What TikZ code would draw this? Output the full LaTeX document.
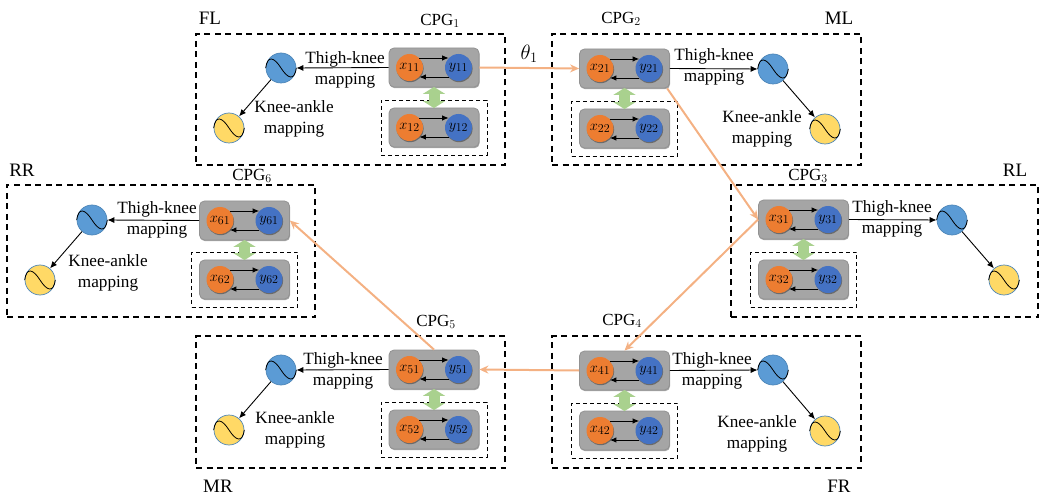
\documentclass[tikz,border=0pt]{standalone}
\usepackage{fontspec}
\setmainfont{Liberation Serif}
\usetikzlibrary{arrows.meta,shadows,calc}
\DeclareMathSizes{15}{15}{12}{9}
\DeclareMathSizes{17}{17}{13}{10}
\DeclareMathSizes{20}{20}{15}{11}
\definecolor{gbox}{HTML}{A5A5A5}
\definecolor{gedge}{HTML}{929292}
\definecolor{oc}{HTML}{ED7D31}
\definecolor{bc}{HTML}{4472C4}
\definecolor{wb}{HTML}{5B9BD5}
\definecolor{wy}{HTML}{FFD966}
\definecolor{wedge}{HTML}{4E86B8}
\definecolor{link}{HTML}{F4B183}
\definecolor{gr}{HTML}{A9D18E}
\tikzset{
  softshadow/.style={drop shadow={shadow xshift=0.6pt,shadow yshift=-1.2pt,opacity=0.35,fill=black}},
  outerbox/.style={draw=black,line width=1.3pt,dash pattern=on 6pt off 4.5pt,minimum width=#1,inner sep=0pt},
  innerbox/.style={draw=black,line width=0.8pt,dash pattern=on 4pt off 3pt,minimum width=106pt,minimum height=55pt,inner sep=0pt},
  graybox/.style={draw=gedge,fill=gbox,line width=0.8pt,rounded corners=5pt,minimum width=90pt,minimum height=39pt,inner sep=0pt,softshadow},
  osc/.style={circle,fill=#1,minimum size=27pt,inner sep=0pt,softshadow,font=\fontsize{15}{15}\selectfont},
  wavec/.style={circle,draw=wedge,line width=0.7pt,fill=#1,minimum size=30pt,inner sep=0pt},
  maptext/.style={align=center,font=\fontsize{17.2}{21}\selectfont,inner sep=0pt},
  lab/.style={font=\fontsize{19}{20}\selectfont,inner sep=0pt},
  cpglab/.style={font=\fontsize{17}{18}\selectfont,inner sep=0pt},
  sync/.style={-{Latex[length=6.5pt,width=5.5pt]},black,line width=0.9pt},
  mapar/.style={-{Latex[length=7pt,width=6pt]},black,line width=0.9pt},
  coupling/.style={-{Stealth[length=9pt,width=8pt]},link,line width=2pt},
  bridge/.style={{Triangle[length=7pt,width=22pt]}-{Triangle[length=7pt,width=22pt]},gr,line width=11pt,shorten >=-0.5pt,shorten <=-0.5pt}
}
% one oscillator pair: id, index, centre x, centre y
\newcommand{\oscpair}[4]{%
  \node[graybox] (g#1#2) at (#3,#4) {};
  \node[osc=oc] (x#1#2) at ($(g#1#2.center)+(-24.5,0)$) {$x_{#1#2}$};
  \node[osc=bc] (y#1#2) at ($(g#1#2.center)+(24.5,0)$) {$y_{#1#2}$};
  \draw[sync] (x#1#2.44) -- (y#1#2.136);
  \draw[sync] (y#1#2.-136) -- (x#1#2.-44);
}
% module: id, centre x, upper y, lower y
\newcommand{\cpgmod}[4]{%
  \node[innerbox] (d#1) at (#2,#4) {};
  \oscpair{#1}{1}{#2}{#3}
  \oscpair{#1}{2}{#2}{#4}
  \draw[bridge] (g#11.south) -- (g#12.north);
}
% sine oscillator: name, x, y, colour
\newcommand{\wavenode}[4]{%
  \node[wavec=#4] (#1) at (#2,#3) {};
  \draw[black,line width=0.8pt] (#1.west) .. controls +(2,-13) and +(-7,-11) .. (#1.center)
     .. controls +(7,11) and +(-2,13) .. (#1.east);
}
\begin{document}
\begin{tikzpicture}[x=1pt,y=-1pt]
\useasboundingbox (0,0) rectangle (1039,497);
% outer leg boxes
\node[outerbox=309pt,minimum height=131pt] (FLbox) at (350.5,99.5) {};
\node[outerbox=309pt,minimum height=131pt] (MLbox) at (706.5,99.5) {};
\node[outerbox=307pt,minimum height=132pt] (RLbox) at (884.5,251) {};
\node[outerbox=308pt,minimum height=132pt] (RRbox) at (161,251) {};
\node[outerbox=309pt,minimum height=132pt] (MRbox) at (350.5,402) {};
\node[outerbox=309pt,minimum height=132pt] (FRbox) at (706.5,402) {};
% CPG modules
\cpgmod{1}{434}{67.5}{127.5}
\cpgmod{2}{624.5}{68.5}{128.5}
\cpgmod{3}{803.5}{219.5}{279.5}
\cpgmod{6}{244.5}{220.5}{279.5}
\cpgmod{5}{434}{369.5}{429.5}
\cpgmod{4}{624.5}{370.5}{430.5}
% wave nodes
\wavenode{b1}{281}{68}{wb}   \wavenode{w1}{229}{128}{wy}
\wavenode{b2}{773}{69}{wb}   \wavenode{w2}{825}{129}{wy}
\wavenode{b3}{952}{220}{wb}  \wavenode{w3}{1004}{280}{wy}
\wavenode{b6}{92}{220}{wb}   \wavenode{w6}{40}{280}{wy}
\wavenode{b5}{281}{370}{wb}  \wavenode{w5}{229}{430}{wy}
\wavenode{b4}{773}{370}{wb}  \wavenode{w4}{825}{431}{wy}
% mapping arrows
\draw[mapar] (g11.west) -- (b1.east);
\draw[mapar] (b1) -- (w1);
\draw[mapar] (g21.east) -- (b2.west);
\draw[mapar] (b2) -- (w2);
\draw[mapar] (g31.east) -- (b3.west);
\draw[mapar] (b3) -- (w3);
\draw[mapar] (g61.west) -- (b6.east);
\draw[mapar] (b6) -- (w6);
\draw[mapar] (g51.west) -- (b5.east);
\draw[mapar] (b5) -- (w5);
\draw[mapar] (g41.east) -- (b4.west);
\draw[mapar] (b4) -- (w4);
% mapping labels
\node[maptext] (t1) at (345,69.5) {Thigh-knee\\mapping};
\node[maptext] (k1) at (294,118.5) {Knee-ankle\\mapping};
\node[maptext] (t2) at (714,66.5) {Thigh-knee\\mapping};
\node[maptext] (k2) at (762,128.5) {Knee-ankle\\mapping};
\node[maptext] (t3) at (892,219) {Thigh-knee\\mapping};
\node[maptext] (t6) at (157,219.5) {Thigh-knee\\mapping};
\node[maptext] (k6) at (108,273) {Knee-ankle\\mapping};
\node[maptext] (t5) at (343,370.5) {Thigh-knee\\mapping};
\node[maptext] (k5) at (295,429.5) {Knee-ankle\\mapping};
\node[maptext] (t4) at (712,370.5) {Thigh-knee\\mapping};
\node[maptext] (k4) at (757,433.5) {Knee-ankle\\mapping};
% inter-leg couplings
\draw[coupling] (g11.east) -- (g21.west) node[midway,above=4pt,text=black,font=\fontsize{20}{20}\selectfont,inner sep=0pt] (th) {$\theta_1$};
\draw[coupling] (g21.-25) -- (g31.west);
\draw[coupling] (g31.west) -- (g41.north);
\draw[coupling] (g41.west) -- (g51.east);
\draw[coupling] (g51.north) -- (g61.east);
% captions
\node[lab] (nFL) at (210,18) {FL};
\node[lab] (nML) at (839,18) {ML};
\node[lab] (nRL) at (1015,170) {RL};
\node[lab] (nRR) at (22,170) {RR};
\node[lab] (nMR) at (218,486) {MR};
\node[lab] (nFR) at (839,486) {FR};
\node[cpglab] (c1) at (440,21) {CPG$_1$};
\node[cpglab] (c2) at (621,19) {CPG$_2$};
\node[cpglab] (c3) at (808,176) {CPG$_3$};
\node[cpglab] (c6) at (252,176) {CPG$_6$};
\node[cpglab] (c5) at (436,322) {CPG$_5$};
\node[cpglab] (c4) at (622,321) {CPG$_4$};
\end{tikzpicture}
\end{document}
